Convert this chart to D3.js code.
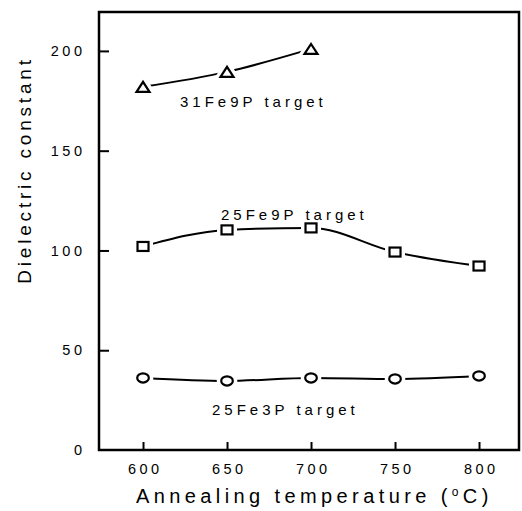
<!DOCTYPE html>
<html>
<head>
<meta charset="utf-8">
<script src="https://cdn.jsdelivr.net/npm/d3@7"></script>
<style>
  body { margin: 0; background: #fff; }
  text { font-family: "Liberation Sans", Arial, sans-serif; fill: #000; }
</style>
</head>
<body>
<div id="chart"></div>
<script>
// data
const temps = [600, 650, 700, 750, 800];
const fe31p9 = [182, 189.5, 201];               // triangles, 600-700 only
const fe25p9 = [102, 110.3, 111.3, 99.2, 92.2];  // squares
const fe25p3 = [36.1, 34.6, 36.1, 35.6, 37.1];   // circles
const xTicks = [600, 650, 700, 750, 800];
const yTicks = [0, 50, 100, 150, 200];

// set the dimensions and margins of the graph
const margin = {top: 12, right: 3, bottom: 61, left: 99},
    width = 522 - margin.left - margin.right,
    height = 511 - margin.top - margin.bottom;

const svg = d3.select("#chart")
    .append("svg")
    .attr("width", 522)
    .attr("height", 511)
    .append("g")
    .attr("transform", `translate(${margin.left},${margin.top})`);

const x = d3.scaleLinear().domain([573.8, 823.8]).range([0, width]);
const y = d3.scaleLinear().domain([0, 219.5]).range([height, 0]);

// axes with inward ticks
const xAxis = svg.append("g")
    .attr("transform", `translate(0,${height})`)
    .call(d3.axisBottom(x).tickValues(xTicks).tickSize(-8).tickPadding(14));
const yAxis = svg.append("g")
    .call(d3.axisLeft(y).tickValues(yTicks).tickSize(-10).tickPadding(17));

[xAxis, yAxis].forEach(function(a){
    a.select(".domain").remove();
    a.selectAll(".tick line").attr("stroke", "#000").attr("stroke-width", 2);
    a.selectAll(".tick text")
        .attr("font-size", "14.5px")
        .attr("letter-spacing", "3.5px")
        .attr("font-family", "Liberation Sans, Arial, sans-serif");
});
yAxis.selectAll(".tick").filter(d => d === 0).select("line").remove();
yAxis.selectAll(".tick text").attr("dx", "3.5px");
xAxis.selectAll(".tick text").attr("dx", "1.7px");

// frame
svg.append("rect")
    .attr("x", 0).attr("y", 0)
    .attr("width", width).attr("height", height)
    .attr("fill", "none")
    .attr("stroke", "#000")
    .attr("stroke-width", 2.5);

const line = d3.line()
    .x(d => x(d[0]))
    .y(d => y(d[1]))
    .curve(d3.curveMonotoneX);

function series(vals, shape) {
    const pts = vals.map((v, i) => [temps[i], v]);
    svg.append("path")
        .datum(pts)
        .attr("d", line)
        .attr("fill", "none")
        .attr("stroke", "#000")
        .attr("stroke-width", 2);

    const g = svg.selectAll(null)
        .data(pts)
        .enter()
        .append("g")
        .attr("transform", d => `translate(${x(d[0])},${y(d[1])})`);

    // white halo first so the line stops short of each marker
    [["#fff", 9], ["#000", 2.2]].forEach(function(s){
        let m;
        if (shape === "tri") {
            m = g.append("path").attr("d", "M-6.5,5 L0,-5 L6.5,5 Z");
        } else if (shape === "sq") {
            m = g.append("rect").attr("x", -5.5).attr("y", -4.5).attr("width", 11).attr("height", 9);
        } else {
            m = g.append("ellipse").attr("rx", 5.8).attr("ry", 4.6);
        }
        m.attr("fill", "#fff").attr("stroke", s[0]).attr("stroke-width", s[1]);
    });
}

series(fe31p9, "tri");
series(fe25p9, "sq");
series(fe25p3, "circ");

// series labels
const labels = [
    {text: "31Fe9P target", x: 180, y: 107},
    {text: "25Fe9P target", x: 221, y: 220},
    {text: "25Fe3P target", x: 212, y: 415}
];
svg.selectAll(".lbl")
    .data(labels)
    .enter()
    .append("text")
    .attr("class", "lbl")
    .attr("x", d => d.x - margin.left)
    .attr("y", d => d.y - margin.top)
    .attr("font-size", "15px")
    .attr("letter-spacing", "4px")
    .text(d => d.text);

// axis titles
const xTitle = svg.append("text")
    .attr("x", 136 - margin.left)
    .attr("y", 503 - margin.top)
    .attr("font-size", "20px")
    .attr("letter-spacing", "4.4px");
xTitle.append("tspan").text("Annealing temperature (");
xTitle.append("tspan").attr("font-size", "12px").attr("dy", "-7").text("o");
xTitle.append("tspan").attr("dy", "7").text("C)");

svg.append("text")
    .attr("transform", `translate(${31 - margin.left},${170 - margin.top}) rotate(-90)`)
    .attr("text-anchor", "middle")
    .attr("font-size", "19px")
    .attr("letter-spacing", "3.8px")
    .text("Dielectric constant");
</script>
</body>
</html>
